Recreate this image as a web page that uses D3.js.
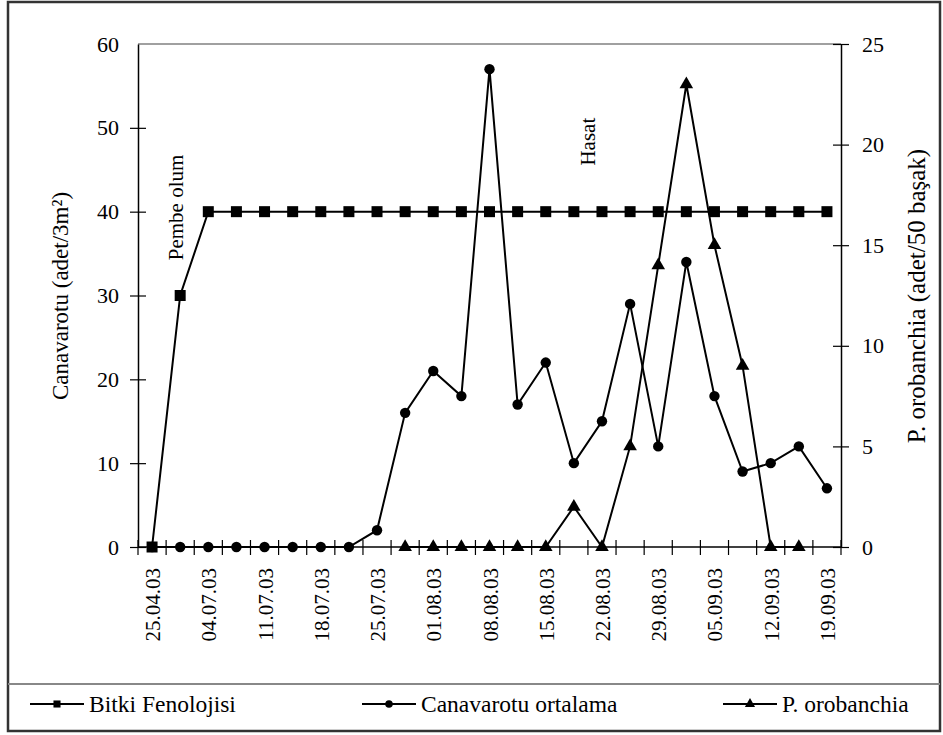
<!DOCTYPE html>
<html>
<head>
<meta charset="utf-8">
<script src="https://cdn.jsdelivr.net/npm/d3@7"></script>
<style>
  body { margin: 0; background: #fff; }
</style>
</head>
<body>
<svg id="chart" width="943" height="735"></svg>
<script>
const FONT = "'Liberation Serif', 'Times New Roman', 'DejaVu Serif', serif"

// 25 sampling dates, only every other one is labelled on the axis
const tickLabels = ['25.04.03', '04.07.03', '11.07.03', '18.07.03', '25.07.03', '01.08.03',
  '08.08.03', '15.08.03', '22.08.03', '29.08.03', '05.09.03', '12.09.03', '19.09.03']

const bitki = [0, 30, 40, 40, 40, 40, 40, 40, 40, 40, 40, 40, 40, 40, 40, 40, 40, 40, 40, 40, 40, 40, 40, 40, 40]
const canavarotu = [0, 0, 0, 0, 0, 0, 0, 0, 2, 16, 21, 18, 57, 17, 22, 10, 15, 29, 12, 34, 18, 9, 10, 12, 7]
const orobanchia = [null, null, null, null, null, null, null, null, null, 0, 0, 0, 0, 0, 0, 2, 0, 5, 14, 23, 15, 9, 0, 0, null]

const leftTicks = [0, 10, 20, 30, 40, 50, 60]
const rightTicks = [0, 5, 10, 15, 20, 25]

// i = category position, y = left-axis value where the text starts (top end)
const annotations = [
  {text: 'Pembe olum', i: 0.8, y: 46.8},
  {text: 'Hasat', i: 15.45, y: 51.2}
]

const seriesNames = ['Bitki Fenolojisi', 'Canavarotu ortalama', 'P. orobanchia']

const margin = {top: 44, right: 102, bottom: 188, left: 138}
const width = 943, height = 735
const plotW = width - margin.left - margin.right
const plotH = height - margin.top - margin.bottom

const svg = d3.select('#chart')

// outer frame + legend separator
svg.append('rect')
  .attr('x', 8).attr('y', 2).attr('width', 932).attr('height', 729)
  .attr('fill', 'none').attr('stroke', '#333').attr('stroke-width', 2.5)
svg.append('line')
  .attr('x1', 8).attr('x2', 940).attr('y1', 684).attr('y2', 684)
  .attr('stroke', '#888').attr('stroke-width', 2)

const g = svg.append('g').attr('transform', `translate(${margin.left},${margin.top})`)

const x = d3.scaleBand().domain(d3.range(bitki.length)).range([0, plotW]).padding(0)
const cx = i => (i + 0.5) * x.bandwidth()
const yL = d3.scaleLinear().domain([0, 60]).range([plotH, 0])
const yR = d3.scaleLinear().domain([0, 25]).range([plotH, 0])

// top border of plot area
g.append('line').attr('x1', 0).attr('x2', plotW).attr('y1', 0).attr('y2', 0)
  .attr('stroke', '#808080').attr('stroke-width', 1.5)

// left axis
const axL = g.append('g')
  .call(d3.axisLeft(yL).tickValues(leftTicks).tickSize(8).tickSizeOuter(0).tickPadding(11))
axL.selectAll('.tick line').attr('x2', d => d === 60 ? -8 : 8).attr('x1', -8)

// right axis
const axR = g.append('g').attr('transform', `translate(${plotW},0)`)
  .call(d3.axisRight(yR).tickValues(rightTicks).tickSize(8).tickSizeOuter(0).tickPadding(13))
axR.selectAll('.tick line').attr('x1', -8).attr('x2', 8)

g.selectAll('g').attr('font-family', FONT).attr('font-size', 22)
g.selectAll('.tick text').attr('fill', '#000')
g.selectAll('.domain').attr('stroke', '#000').attr('stroke-width', 1.5)
g.selectAll('.tick line').attr('stroke', '#000').attr('stroke-width', 1.2)

// bottom axis: ticks between categories
const xb = g.append('g').attr('transform', `translate(0,${plotH})`)
xb.append('line').attr('x1', 0).attr('x2', plotW).attr('stroke', '#000').attr('stroke-width', 1.5)
xb.selectAll('line.tk')
  .data(d3.range(bitki.length + 1))
  .join('line').attr('class', 'tk')
    .attr('x1', i => i * x.bandwidth()).attr('x2', i => i * x.bandwidth())
    .attr('y1', -7).attr('y2', 8)
    .attr('stroke', '#000').attr('stroke-width', 1.2)
xb.selectAll('text')
  .data(tickLabels)
  .join('text')
    .attr('transform', (d, k) => `translate(${cx(k * 2) + 8},${21}) rotate(-90)`)
    .attr('text-anchor', 'end')
    .attr('font-family', FONT)
    .attr('font-size', 21)
    .text(d => d)

// axis titles
svg.append('text')
  .attr('transform', `translate(68,296) rotate(-90)`)
  .attr('text-anchor', 'middle').attr('font-family', FONT).attr('font-size', 23)
  .text('Canavarotu (adet/3m²)')
svg.append('text')
  .attr('transform', `translate(925,296) rotate(-90)`)
  .attr('text-anchor', 'middle').attr('font-family', FONT).attr('font-size', 25)
  .text('P. orobanchia (adet/50 başak)')

// annotations
g.selectAll('text.note')
  .data(annotations)
  .join('text').attr('class', 'note')
    .attr('transform', d => `translate(${cx(d.i) + 8},${yL(d.y)}) rotate(-90)`)
    .attr('text-anchor', 'end')
    .attr('font-family', FONT)
    .attr('font-size', 21)
    .text(d => d.text)

// markers
const square = d3.symbol().type(d3.symbolSquare).size(121)
const circle = d3.symbol().type(d3.symbolCircle).size(85)
const triangle = d3.symbol().type(d3.symbolTriangle).size(80)

function drawSeries(values, y, sym) {
  const line = d3.line()
    .defined(d => d != null)
    .x((d, i) => cx(i))
    .y(d => y(d))
  g.append('path')
    .datum(values)
    .attr('fill', 'none').attr('stroke', '#000').attr('stroke-width', 2)
    .attr('d', line)
  g.append('g').selectAll('path')
    .data(values.map((v, i) => ({v, i})).filter(d => d.v != null))
    .join('path')
      .attr('transform', d => `translate(${cx(d.i)},${y(d.v)})`)
      .attr('d', sym)
      .attr('fill', '#000')
}

drawSeries(bitki, yL, square)
drawSeries(canavarotu, yL, circle)
drawSeries(orobanchia, yR, triangle)

// legend
const legendSyms = [
  d3.symbol().type(d3.symbolSquare).size(50),
  d3.symbol().type(d3.symbolCircle).size(45),
  d3.symbol().type(d3.symbolTriangle).size(45)
]
const legendX = [30, 362, 723]
const lg = svg.append('g').attr('transform', 'translate(0,704)')
const items = lg.selectAll('g')
  .data(seriesNames)
  .join('g')
    .attr('transform', (d, i) => `translate(${legendX[i]},0)`)
items.append('line').attr('x1', 0).attr('x2', 54)
  .attr('stroke', '#000').attr('stroke-width', 2)
items.append('path')
  .attr('transform', 'translate(27,0)')
  .attr('d', (d, i) => legendSyms[i]())
  .attr('fill', '#000')
items.append('text')
  .attr('x', 59).attr('y', 8)
  .attr('font-family', FONT)
  .attr('font-size', 23.5)
  .text(d => d)
</script>
</body>
</html>
